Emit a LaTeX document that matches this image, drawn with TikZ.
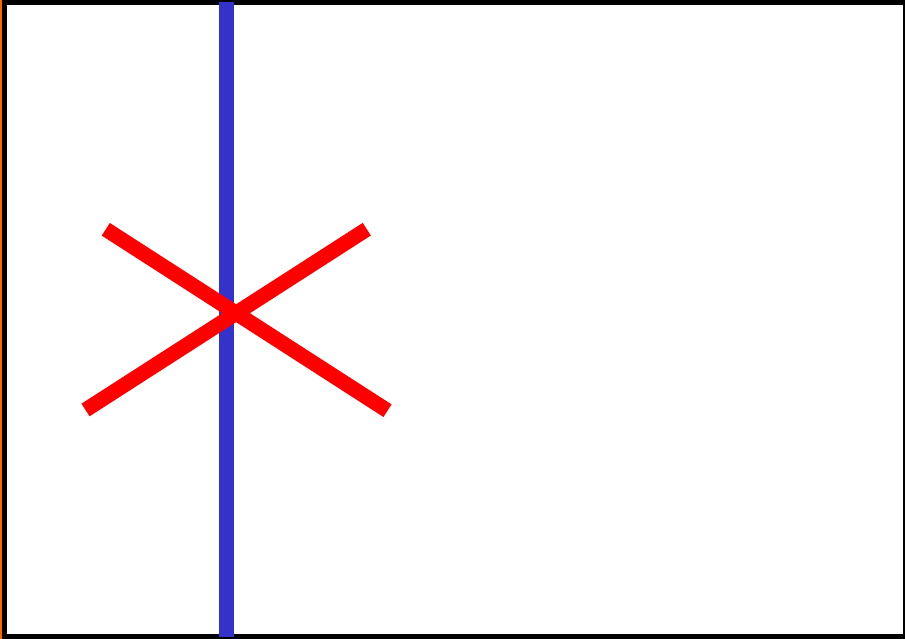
\documentclass[tikz,border=0pt]{standalone}
\definecolor{frameorange}{HTML}{FF6600}
\definecolor{lineblue}{HTML}{3333CC}
\definecolor{linered}{HTML}{FF0000}
\begin{document}
\begin{tikzpicture}[x=1pt,y=-1pt,
  redline/.style={draw=linered,line width=15pt,line cap=butt},
  blueline/.style={draw=lineblue,line width=15pt,line cap=butt}]
\useasboundingbox (0,0) rectangle (905,639);
\fill[black] (0,0) rectangle (905,639);
\fill[frameorange] (0,0) rectangle (2,639);
\fill[white] (7,5) rectangle (903,634);
\coordinate (bt) at (226.5,2);
\coordinate (bb) at (226.5,637);
\coordinate (a1) at (105.8,229.3);
\coordinate (a2) at (387.5,410.7);
\coordinate (b1) at (85.5,410);
\coordinate (b2) at (366.8,229.2);
\draw[blueline] (bt) -- (bb);
\draw[redline] (a1) -- (a2);
\draw[redline] (b1) -- (b2);
\end{tikzpicture}
\end{document}
